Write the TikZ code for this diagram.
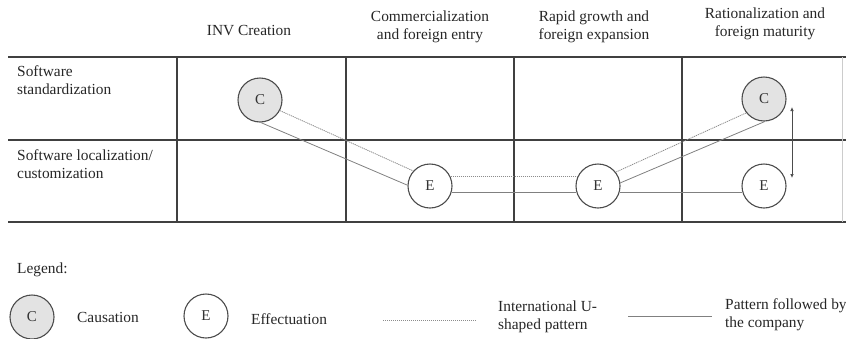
\documentclass[tikz,border=0pt]{standalone}
\usepackage{fontspec}
\setmainfont{Liberation Serif}
\usetikzlibrary{arrows.meta}
\begin{document}
\begin{tikzpicture}[x=1pt,y=-1pt,
  grid/.style={draw=black!75,line width=1.1pt},
  faint/.style={draw=black!20,line width=0.8pt},
  lab/.style={font=\fontsize{15.4}{18}\selectfont,text=black!85,inner sep=0pt},
  hdr/.style={lab,align=center},
  rowlab/.style={lab,align=left,anchor=west},
  cnode/.style={circle,draw=black!70,line width=1.1pt,fill=black!11,minimum size=44pt,inner sep=0pt,font=\fontsize{15}{18}\selectfont,text=black!80},
  enode/.style={cnode,fill=white},
  solidp/.style={draw=black!50,line width=0.8pt},
  dotp/.style={draw=black!45,line width=0.8pt,dash pattern=on 1.2pt off 0.8pt}
]
\useasboundingbox (0,0) rectangle (846,338);
% grid
\draw[grid] (8,57) -- (846,57);
\draw[grid] (8,140) -- (846,140);
\draw[grid] (8,222) -- (846,222);
\foreach \x in {177,346,514,682} \draw[grid] (\x,57) -- (\x,222);
\draw[faint] (842,57) -- (842,222);
% headers
\node[hdr] (h1) at (249,31) {INV Creation};
\node[hdr] (h2) at (430,27) {Commercialization\\and foreign entry};
\node[hdr] (h3) at (594,27) {Rapid growth and\\foreign expansion};
\node[hdr] (h4) at (765,24) {Rationalization and\\foreign maturity};
% row labels
\node[rowlab] (r1) at (17,80) {Software\\standardization};
\node[rowlab] (r2) at (17,164) {Software localization/\\customization};
% nodes
\node[cnode] (C1) at (260,100) {C};
\node[enode] (E1) at (430,186) {E};
\node[enode] (E2) at (598,186) {E};
\node[cnode] (C2) at (764,99) {C};
\node[enode] (E3) at (764,186) {E};
% dotted U-shaped pattern
\draw[dotp] (C1.-28) -- (E1.138);
\draw[dotp] (E1.24) -- (E2.156);
\draw[dotp] (E2.38) -- (C2.218);
% solid company pattern
\draw[solidp] (C1.-88) -- (E1.178);
\draw[solidp] (E1.-16) -- (E2.196);
\draw[solidp] (E2.8) -- (C2.-88);
\draw[solidp] (E2.-16) -- (E3.196);
% double arrow
\coordinate (a1) at (792,107);
\coordinate (a2) at (792,178);
\draw[draw=black!70,line width=0.7pt,{Latex[length=4pt,width=3.5pt]}-{Latex[length=4pt,width=3.5pt]}] (a1) -- (a2);
% legend
\node[lab,anchor=west] (lg) at (17,270) {Legend:};
\node[cnode] (LC) at (32,317) {C};
\node[lab,anchor=west] (lct) at (77,317) {Causation};
\node[enode] (LE) at (206,316) {E};
\node[lab,anchor=west] (let) at (251,319) {Effectuation};
\coordinate (d1) at (383,320);
\coordinate (d2) at (476,320);
\draw[dotp] (d1) -- (d2);
\node[rowlab] (ldt) at (498,317) {International U-\\shaped pattern};
\coordinate (s1) at (628,316);
\coordinate (s2) at (712,316);
\draw[solidp] (s1) -- (s2);
\node[rowlab] (lst) at (725,315) {Pattern followed by\\the company};
\end{tikzpicture}
\end{document}
